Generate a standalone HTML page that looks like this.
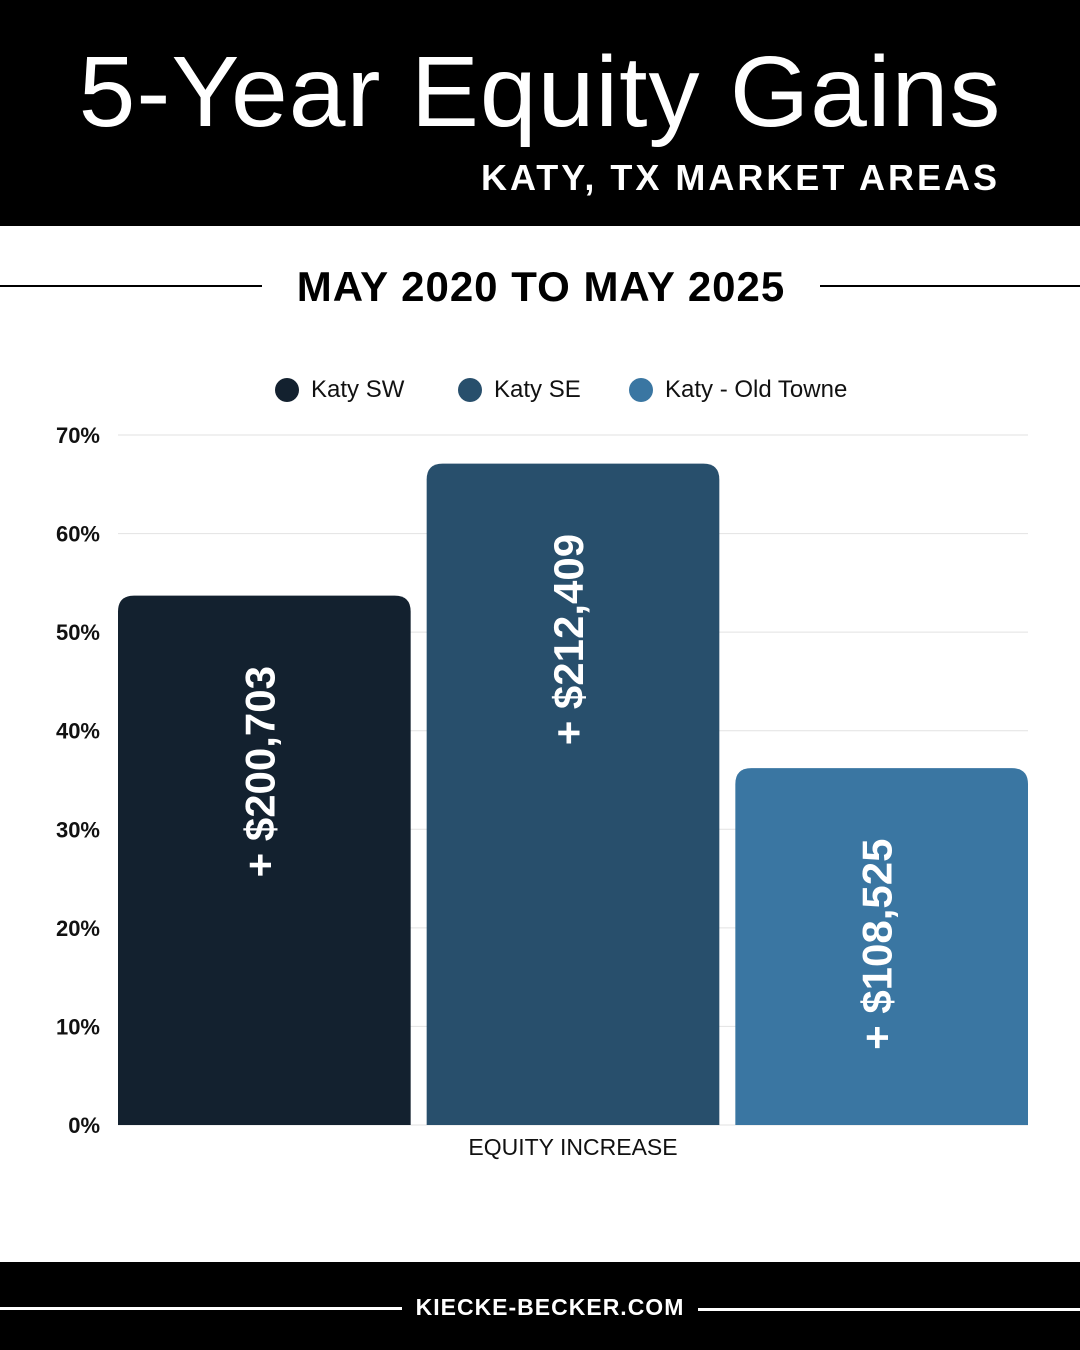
<!DOCTYPE html>
<html><head><meta charset="utf-8"><style>
body{margin:0;width:1080px;height:1350px;position:relative;background:#fff;font-family:"Liberation Sans",sans-serif;overflow:hidden}
.abs{position:absolute}
</style></head><body>
<div class="abs" style="left:0;top:0;width:1080px;height:226px;background:#000"></div>
<div class="abs" style="left:0;width:1080px;top:32px;text-align:center;color:#fff;font-size:100px;font-weight:300;letter-spacing:1px;line-height:120px;transform:scaleX(1.02)">5-Year Equity Gains</div>
<div class="abs" style="right:80px;top:155px;color:#fff;font-size:36px;font-weight:bold;letter-spacing:3px;line-height:46px">KATY, TX MARKET AREAS</div>
<div class="abs" style="left:0;top:285px;width:262px;height:2px;background:#000"></div>
<div class="abs" style="left:820px;top:285px;width:260px;height:2px;background:#000"></div>
<div class="abs" style="left:262px;width:558px;top:263px;text-align:center;font-size:42px;font-weight:bold;line-height:48px;letter-spacing:1px">MAY 2020 TO MAY 2025</div>
<svg class="abs" style="left:0;top:0" width="1080" height="1262" id="chart"></svg>
<div class="abs" style="left:0;top:1262px;width:1080px;height:88px;background:#000"></div>
<div class="abs" style="left:0;top:1307px;width:402px;height:3px;background:#fff"></div>
<div class="abs" style="left:698px;top:1308px;width:382px;height:3px;background:#fff"></div>
<div class="abs" style="left:402px;width:296px;top:1292px;text-align:center;color:#fff;font-size:23px;font-weight:bold;letter-spacing:1px;line-height:30px">KIECKE-BECKER.COM</div>
<script>
const categories=["Katy SW","Katy SE","Katy - Old Towne"];
const values=[53.7,67.1,36.2];
const labels=["+ $200,703","+ $212,409","+ $108,525"];
const ticks=[0,10,20,30,40,50,60,70];
const colors=["#13212f","#284f6c","#3a76a2"];
const NS="http://www.w3.org/2000/svg";
const svg=document.getElementById('chart');
const x0=118,x1=1028,yb=1125,yt=435,ymax=70;
const y=v=>yb-(v/ymax)*(yb-yt);
const gap=16,bw=(x1-x0-gap*(categories.length-1))/categories.length;
const bx=i=>x0+i*(bw+gap);
function mk(t,a){const e=document.createElementNS(NS,t);for(const k in a)e.setAttribute(k,a[k]);svg.appendChild(e);return e;}
ticks.forEach(t=>{
  const g=mk('line',{x1:x0,x2:x1,y1:y(t),y2:y(t),stroke:'#e2e2e2','stroke-width':1});
  
  
  const l=mk('text',{x:100,y:y(t)+8,'text-anchor':'end','font-size':22,'font-weight':'bold','font-family':'Liberation Sans, sans-serif',fill:'#111'});
  l.textContent=t+'%';
  
  
});
const lx=[287,470,641];
categories.forEach((c,i)=>{
  const d=mk('circle',{cx:lx[i],cy:390,r:12,fill:colors[i]});
  
  
  const t=mk('text',{x:lx[i]+24,y:397,'font-size':24,'font-family':'Liberation Sans, sans-serif',fill:'#111'});
  t.textContent=c;
  
  
  const top=y(values[i]),r=16;
  const X=bx(i);
  const p=mk('path',{d:`M${X},${yb}V${top+r}Q${X},${top} ${X+r},${top}H${X+bw-r}Q${X+bw},${top} ${X+bw},${top+r}V${yb}Z`,fill:colors[i]});
  
  
  const cx=X+bw/2,cy=top+176;
  const v=mk('text',{x:cx,y:cy,'text-anchor':'middle','font-size':42,'font-weight':'bold','font-family':'Liberation Sans, sans-serif',fill:'#fff',transform:`rotate(-90 ${cx} ${cy}) translate(0 10)`});
  v.textContent=labels[i];
  
  
});
const xl=mk('text',{x:573,y:1155,'text-anchor':'middle','font-size':23,'font-family':'Liberation Sans, sans-serif',fill:'#111'});
xl.textContent='EQUITY INCREASE';


</script>
</body></html>
